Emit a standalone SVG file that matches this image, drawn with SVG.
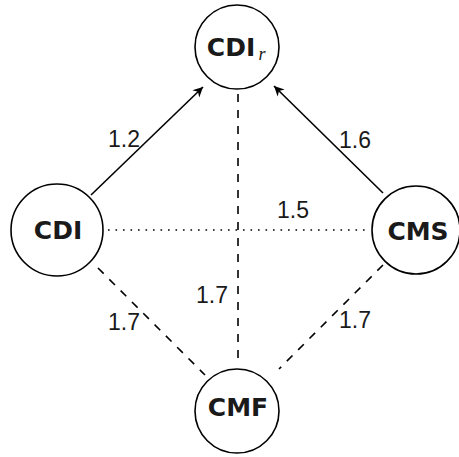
<svg xmlns="http://www.w3.org/2000/svg" width="459" height="457" viewBox="0 0 459 457">
<style>
.node{fill:#fff;stroke:#000;stroke-width:1.6}
.nl{font-family:"DejaVu Sans",sans-serif;font-weight:bold;font-size:25px;fill:#1a1a1a;text-anchor:middle}
.el{font-family:"Liberation Sans",sans-serif;font-size:23px;fill:#1a1a1a;text-anchor:middle}
.e{stroke:#000;stroke-width:1.6;fill:none}
.dash{stroke-dasharray:8 8}
.dot{stroke-dasharray:1.6 5.9}
</style>
<defs>
<marker id="arr" markerWidth="12" markerHeight="12" viewBox="-10 -6 12 12" refX="0" refY="0" orient="auto" markerUnits="userSpaceOnUse">
<path d="M0,0 L-10,-5 L-7,0 L-10,5 Z" fill="#000"/>
</marker>
</defs>
<g id="connectors">
<line class="e" x1="91" y1="195" x2="203" y2="87" marker-end="url(#arr)"/>
<line class="e" x1="383" y1="193" x2="274" y2="86" marker-end="url(#arr)"/>
<line class="e dot" x1="108" y1="230" x2="370" y2="230"/>
<line class="e dash" x1="238" y1="94" x2="238" y2="364"/>
<line class="e dash" x1="98" y1="268" x2="205" y2="375"/>
<line class="e dash" x1="383" y1="265" x2="279" y2="369"/>
<text class="el" x="124" y="147">1.2</text>
<text class="el" x="355" y="148">1.6</text>
<text class="el" x="293" y="218">1.5</text>
<text class="el" x="212" y="303">1.7</text>
<text class="el" x="124" y="330">1.7</text>
<text class="el" x="355" y="328">1.7</text>
</g>
<g id="CDIr">
<circle class="node" cx="237" cy="47" r="42"/>
<text class="nl" x="231" y="56">CDI</text>
<text x="262" y="60" font-family="Liberation Serif,serif" font-style="italic" font-size="18" fill="#1a1a1a" text-anchor="middle">r</text>
</g>
<g id="CDI">
<circle class="node" cx="57" cy="230" r="46"/>
<text class="nl" x="58" y="239">CDI</text>
</g>
<g id="CMS">
<circle class="node" cx="416" cy="230" r="44"/>
<text class="nl" x="418" y="240">CMS</text>
</g>
<g id="CMF">
<circle class="node" cx="237" cy="411" r="42"/>
<text class="nl" x="238" y="416">CMF</text>
</g>
</svg>
